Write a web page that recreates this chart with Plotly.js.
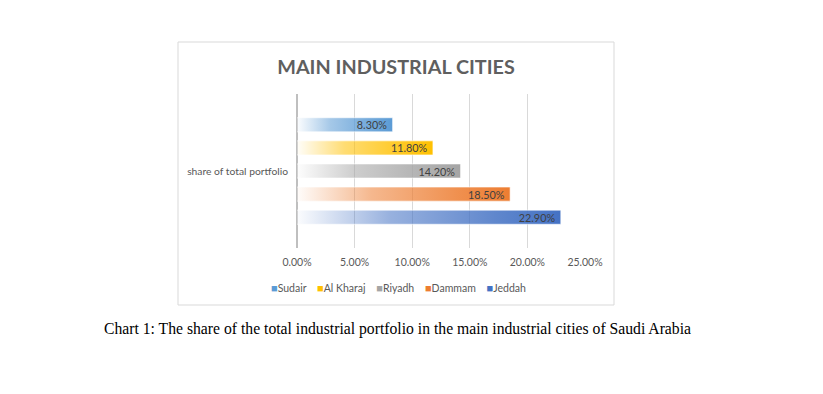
<!DOCTYPE html>
<html>
<head>
<meta charset="utf-8">
<script src="https://cdn.plot.ly/plotly-3.0.1.min.js"></script>
<style>
html,body{margin:0;padding:0;background:#fff;}
#chart{width:823px;height:394px;}
</style>
</head>
<body>
<div id="chart"></div>
<script>
const categories = ['share of total portfolio'];
const cities = ['Sudair', 'Al Kharaj', 'Riyadh', 'Dammam', 'Jeddah'];
const shares = [0.083, 0.118, 0.142, 0.185, 0.229];
const colors = ['#5B9BD5', '#FFC000', '#A5A5A5', '#ED7D31', '#4472C4'];
const xTicks = [0, 0.05, 0.10, 0.15, 0.20, 0.25];
const chartTitle = 'MAIN INDUSTRIAL CITIES';
const caption = 'Chart 1: The share of the total industrial portfolio in the main industrial cities of Saudi Arabia';

const FONT = 'Lato, "Open Sans", sans-serif';

const traces = cities.map((c, i) => ({
  type: 'bar',
  orientation: 'h',
  y: categories,
  x: [shares[i]],
  name: c,
  marker: {color: colors[i], line: {color: 'rgba(255,255,255,0.6)', width: 1}},
  texttemplate: '%{x:.2%}&nbsp;',
  textposition: 'inside',
  insidetextanchor: 'end',
  constraintext: 'none',
  textfont: {family: FONT, size: 10.8, color: '#404040'},
  hoverinfo: 'skip'
}));

const legendText = cities.map((c, i) =>
  '<span style="color:' + colors[i] + ';font-size:11px">■</span>' + c
).join('&nbsp;&nbsp;&nbsp;&nbsp;');

const layout = {
  width: 823, height: 394,
  margin: {l: 297, r: 238, t: 94, b: 146},
  paper_bgcolor: '#ffffff',
  plot_bgcolor: '#ffffff',
  showlegend: false,
  barmode: 'group',
  bargap: 0.25,
  bargroupgap: 0.39,
  title: {
    text: '<b>' + chartTitle + '</b>',
    x: 396 / 823, xref: 'container', xanchor: 'center',
    y: 1 - 67 / 394, yref: 'container', yanchor: 'middle',
    font: {family: FONT, size: 19.8, color: '#5f5f5f'}
  },
  xaxis: {
    range: [0, 0.25],
    tickvals: xTicks,
    tickformat: '.2%',
    showgrid: true, gridcolor: '#d9d9d9', gridwidth: 1,
    zeroline: true, zerolinecolor: '#bfbfbf', zerolinewidth: 2,
    showline: false, ticks: '',
    ticklabelstandoff: 6,
    tickfont: {family: FONT, size: 10.5, color: '#595959'},
    fixedrange: true
  },
  yaxis: {
    autorange: 'reversed',
    showgrid: false, zeroline: false, showline: false,
    ticks: '', ticklabelstandoff: 8,
    tickfont: {family: FONT, size: 10.3, color: '#595959'},
    fixedrange: true
  },
  shapes: [{
    type: 'rect', xref: 'paper', yref: 'paper',
    x0: (178 - 297) / 288, x1: (614 - 297) / 288,
    y0: (248 - 305) / 154, y1: (248 - 42) / 154,
    line: {color: '#d9d9d9', width: 1}, fillcolor: 'rgba(0,0,0,0)', layer: 'below'
  }],
  annotations: [
    {
      text: legendText, showarrow: false,
      xref: 'paper', yref: 'paper',
      x: (398 - 297) / 288, y: (248 - 287) / 154,
      xanchor: 'center', yanchor: 'middle',
      font: {family: FONT, size: 10.5, color: '#595959'}
    },
    {
      text: caption, showarrow: false,
      xref: 'paper', yref: 'paper',
      x: (397.5 - 297) / 288, y: (248 - 329) / 154,
      xanchor: 'center', yanchor: 'middle',
      font: {family: '"Liberation Serif", "Times New Roman", serif', size: 15.7, color: '#000000'}
    }
  ]
};

Plotly.newPlot('chart', traces, layout, {displayModeBar: false, staticPlot: true}).then(gd => {
  const svg = gd.querySelector('.main-svg');
  const NS = 'http://www.w3.org/2000/svg';
  let defs = svg.querySelector('defs');
  if (!defs) { defs = document.createElementNS(NS, 'defs'); svg.insertBefore(defs, svg.firstChild); }
  const traceGroups = gd.querySelectorAll('.barlayer .trace');
  traceGroups.forEach((tg, i) => {
    const id = 'bargrad' + i;
    const lg = document.createElementNS(NS, 'linearGradient');
    lg.setAttribute('id', id);
    lg.setAttribute('x1', '0'); lg.setAttribute('x2', '1');
    lg.setAttribute('y1', '0'); lg.setAttribute('y2', '0');
    [[0, 0.02], [0.35, 0.55], [0.75, 0.85], [1, 1]].forEach(([o, a]) => {
      const s = document.createElementNS(NS, 'stop');
      s.setAttribute('offset', o);
      s.setAttribute('stop-color', colors[i]);
      s.setAttribute('stop-opacity', a);
      lg.appendChild(s);
    });
    defs.appendChild(lg);
    tg.querySelectorAll('path').forEach(p => {
      p.style.fill = 'url(#' + id + ')';
      p.style.fillOpacity = 1;
    });
  });
});
</script>
</body>
</html>
